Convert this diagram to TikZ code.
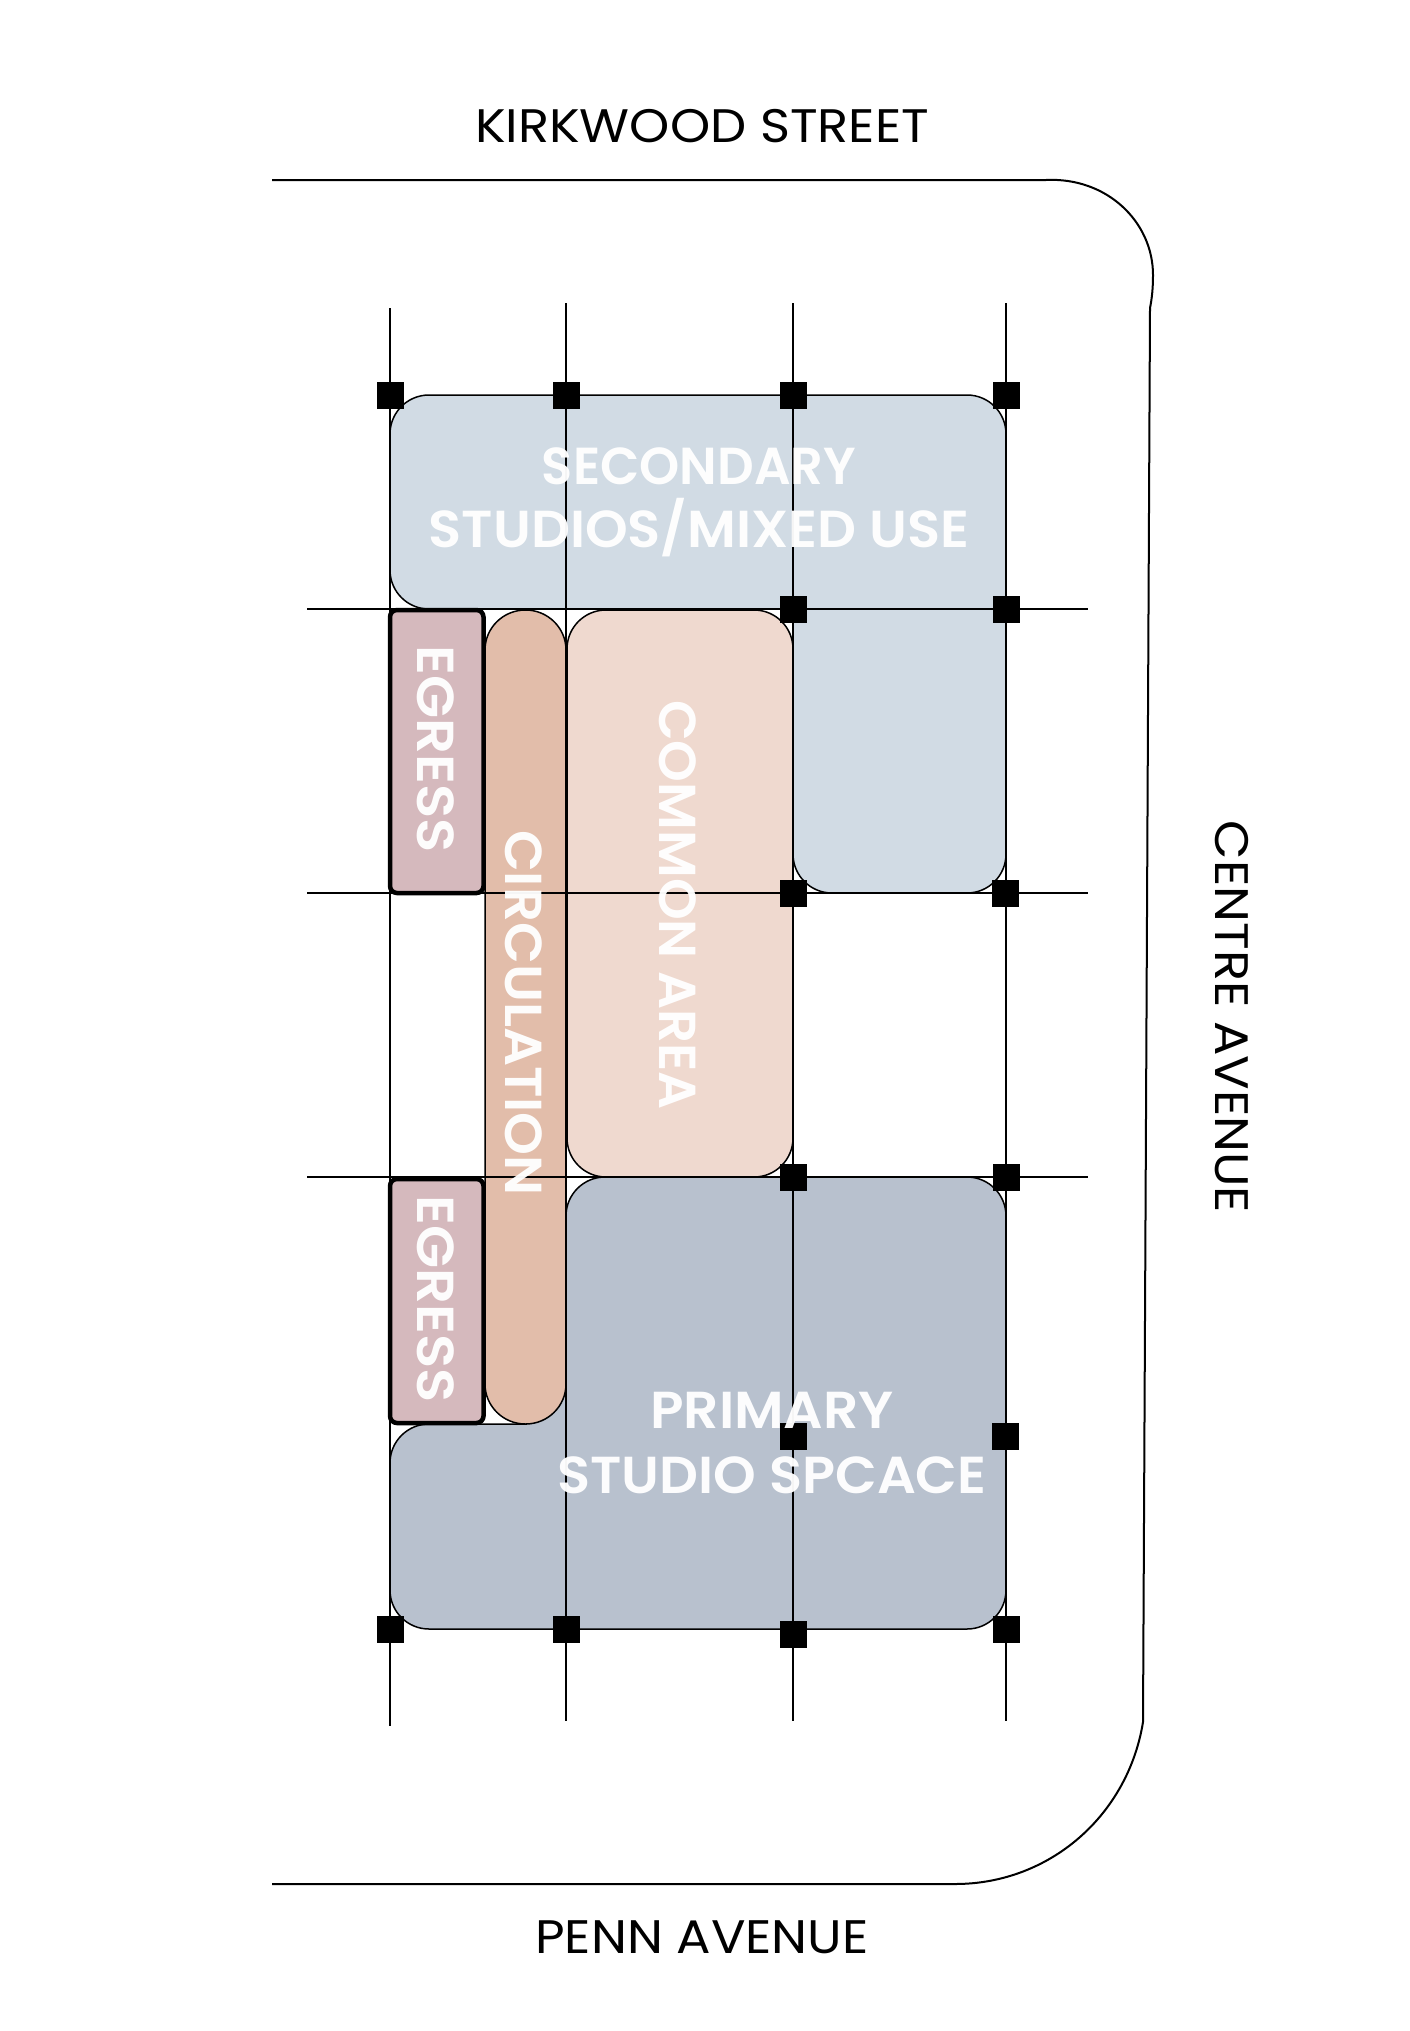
\documentclass[tikz,border=0pt]{standalone}
\usepackage{graphicx}
\usepackage{fontspec}
\setmainfont{Poppins}
\newfontfamily\whitefont{Poppins SemiBold}
\definecolor{secblue}{HTML}{D1DBE4}
\definecolor{primblue}{HTML}{B8C1CE}
\definecolor{circ}{HTML}{E2BDAA}
\definecolor{commonc}{HTML}{EFD9CF}
\definecolor{egressc}{HTML}{D5B9BD}
\newcommand{\streetw}[1]{\scalebox{1.088}[1]{#1}}
\tikzset{
  gridline/.style={black,line width=1.6pt},
  zone/.style={draw=black,line width=1.5pt,rounded corners=39pt},
  egressbox/.style={draw=black,line width=4.5pt,rounded corners=7pt,fill=egressc},
  post/.style={fill=black,draw=none,minimum size=27pt,inner sep=0pt,outer sep=0pt},
  street/.style={font=\fontsize{47}{56}\selectfont,text=black,inner sep=0pt},
  zonelabel/.style={font=\whitefont\fontsize{52}{63}\selectfont,text=white,text opacity=.96,inner sep=0pt,align=center},
}
\begin{document}
\begin{tikzpicture}[x=1pt,y=-1pt]
\useasboundingbox[fill=white] (0,0) rectangle (1410,2031);
% site boundary
\coordinate (bTL) at (272,180);
\coordinate (bTR) at (1046,180);
\coordinate (bR) at (1150,308);
\coordinate (bBR) at (1143,1722);
\coordinate (bB) at (955,1884);
\coordinate (bBL) at (272,1884);
\draw[black,line width=2pt] (bTL) -- (bTR) .. controls (1107,177) and (1153,222) .. (1153,275) .. controls (1153,288) and (1152,298) .. (bR) -- (bBR) .. controls (1128,1815) and (1050,1884) .. (bB) -- (bBL);
% zones
\path[zone,fill=secblue] (390,395) -- (1006,395) -- (1006,893) -- (793,893) [sharp corners] -- (793,609) [rounded corners=39pt] -- (390,609) -- cycle;
\path[zone,fill=primblue] (566,1177) -- (1006,1177) -- (1006,1629) -- (390,1629) -- (390,1424) [sharp corners] -- (526,1424) -- (526,1300) -- (566,1300) [rounded corners=39pt] -- cycle;
\path[zone,rounded corners=0pt,fill=circ] (485,650) .. controls (485,628) and (503,610) .. (525.5,610) .. controls (548,610) and (566,628) .. (566,650) -- (566,1384) .. controls (566,1406) and (548,1424) .. (525.5,1424) .. controls (503,1424) and (485,1406) .. (485,1384) -- cycle;
\path[zone,fill=commonc] (567,610) rectangle (793,1177);
% grid
\coordinate (v1t) at (390,308); \coordinate (v1b) at (390,1726);
\coordinate (v2t) at (566,303); \coordinate (v2b) at (566,1721);
\coordinate (v3t) at (793,303); \coordinate (v3b) at (793,1721);
\coordinate (v4t) at (1006,303); \coordinate (v4b) at (1006,1721);
\coordinate (h1l) at (307,609); \coordinate (h1r) at (1088,609);
\coordinate (h2l) at (307,893); \coordinate (h2r) at (1088,893);
\coordinate (h3l) at (307,1177); \coordinate (h3r) at (1088,1177);
\draw[gridline] (v1t) -- (v1b) (v2t) -- (v2b) (v3t) -- (v3b) (v4t) -- (v4b)
  (h1l) -- (h1r) (h2l) -- (h2r) (h3l) -- (h3r);
% egress
\path[egressbox] (390,610) rectangle (483.5,893);
\path[egressbox] (390,1179) rectangle (483.5,1423);
% posts
\node[post] (p11) at (390,395) {};
\node[post] (p12) at (566,395) {};
\node[post] (p13) at (793,395) {};
\node[post] (p14) at (1006,395) {};
\node[post] (p23) at (793,609) {};
\node[post] (p24) at (1006,609) {};
\node[post] (p33) at (793,893) {};
\node[post] (p34) at (1005,893) {};
\node[post] (p43) at (793,1177) {};
\node[post] (p44) at (1006,1177) {};
\node[post] (p53) at (793,1436) {};
\node[post] (p54) at (1005,1436) {};
\node[post] (p61) at (390,1629) {};
\node[post] (p62) at (566,1629) {};
\node[post] (p63) at (793,1634) {};
\node[post] (p64) at (1006,1629) {};
% street names
\node[street] (kirkwood) at (702,126) {\streetw{KIRKWOOD STREET}};
\node[street] (penn) at (702,1937) {\streetw{PENN AVENUE}};
\node[street,rotate=-90] (centre) at (1232,1017) {\streetw{CENTRE AVENUE}};
% zone labels
\node[zonelabel] (secondary) at (699,466) {\scalebox{.984}[1]{SECONDARY}};
\node[zonelabel] (studios) at (699,528) {\scalebox{1.045}[1]{STUDIOS/MIXED USE}};
\node[zonelabel] (primary) at (772,1410) {\scalebox{1.06}[1]{PRIMARY}};
\node[zonelabel] (studio) at (772,1475) {\scalebox{1.044}[1]{STUDIO SPCACE}};
\node[zonelabel,rotate=-90] (egressa) at (436,749) {\scalebox{1.08}[1]{EGRESS}};
\node[zonelabel,rotate=-90] (egressb) at (436,1299) {\scalebox{1.08}[1]{EGRESS}};
\node[zonelabel,rotate=-90] (circlabel) at (524,1013) {\scalebox{1.05}[1]{CIRCULATION}};
\node[zonelabel,rotate=-90] (commonlabel) at (678,905) {\scalebox{1.022}[1]{COMMON AREA}};
\end{tikzpicture}
\end{document}
